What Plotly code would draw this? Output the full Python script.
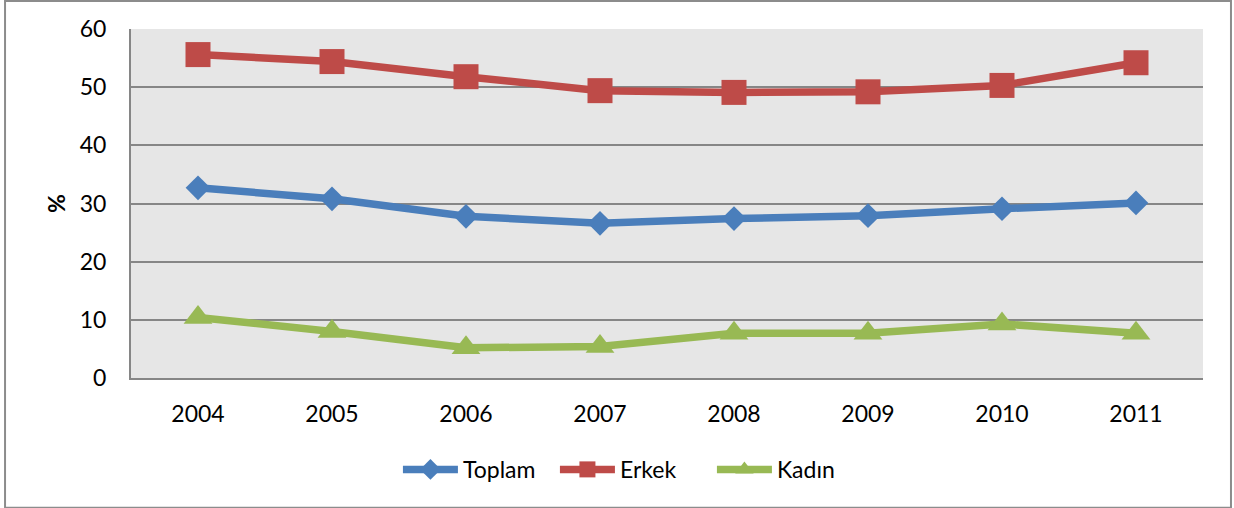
import plotly.graph_objects as go

years = ["2004", "2005", "2006", "2007", "2008", "2009", "2010", "2011"]
toplam = [32.7, 30.8, 27.8, 26.6, 27.4, 27.9, 29.1, 30.1]
erkek = [55.6, 54.4, 51.8, 49.4, 49.1, 49.2, 50.3, 54.2]
kadin = [10.4, 8.0, 5.2, 5.4, 7.7, 7.7, 9.3, 7.7]
y_ticks = [0, 10, 20, 30, 40, 50, 60]

FONT = "Lato, 'Open Sans', sans-serif"

fig = go.Figure()
fig.add_trace(go.Scatter(x=years, y=toplam, name="Toplam", mode="lines+markers",
                         line=dict(color="#4A7EBB", width=7.5),
                         marker=dict(symbol="diamond", size=19, color="#4A7EBB")))
fig.add_trace(go.Scatter(x=years, y=erkek, name="Erkek", mode="lines+markers",
                         line=dict(color="#BE4B48", width=7.5),
                         marker=dict(symbol="square", size=25, color="#BE4B48")))
fig.add_trace(go.Scatter(x=years, y=kadin, name="Kadın", mode="lines+markers",
                         line=dict(color="#98B954", width=7.5),
                         marker=dict(symbol="triangle-up", size=25, color="#98B954")))

fig.update_layout(
    width=1234, height=508,
    margin=dict(l=131, r=31, t=29, b=130),
    paper_bgcolor="white", plot_bgcolor="#E6E6E6",
    font=dict(family=FONT, size=23, color="black"),
    showlegend=True,
    legend=dict(orientation="h", x=0.249, xanchor="left", y=-0.262, yanchor="middle",
                font=dict(size=23), bgcolor="rgba(0,0,0,0)", itemwidth=55,
                entrywidth=87, entrywidthmode="pixels"),
    xaxis=dict(type="category", range=[-0.5, 7.5], showgrid=False,
               showline=True, linecolor="#868686", linewidth=2,
               ticks="", ticklabelstandoff=14, fixedrange=True),
    yaxis=dict(range=[0, 60], tickvals=y_ticks, showgrid=True, gridcolor="#868686", gridwidth=2,
               showline=True, linecolor="#868686", linewidth=2, zeroline=False,
               ticks="", ticklabelstandoff=18, automargin=False, fixedrange=True,
               title=dict(text="<b>%</b>", standoff=8, font=dict(size=23))),
    shapes=[dict(type="rect", xref="paper", yref="paper",
                 x0=-0.1175, x1=1.0261, y0=-0.372, y1=1.08,
                 line=dict(color="#8C8C8C", width=2), fillcolor="rgba(0,0,0,0)", layer="below")],
)

fig.write_html("out.html", config={"displayModeBar": False},
               post_script="document.body.style.margin='0';document.body.style.overflow='hidden';")
